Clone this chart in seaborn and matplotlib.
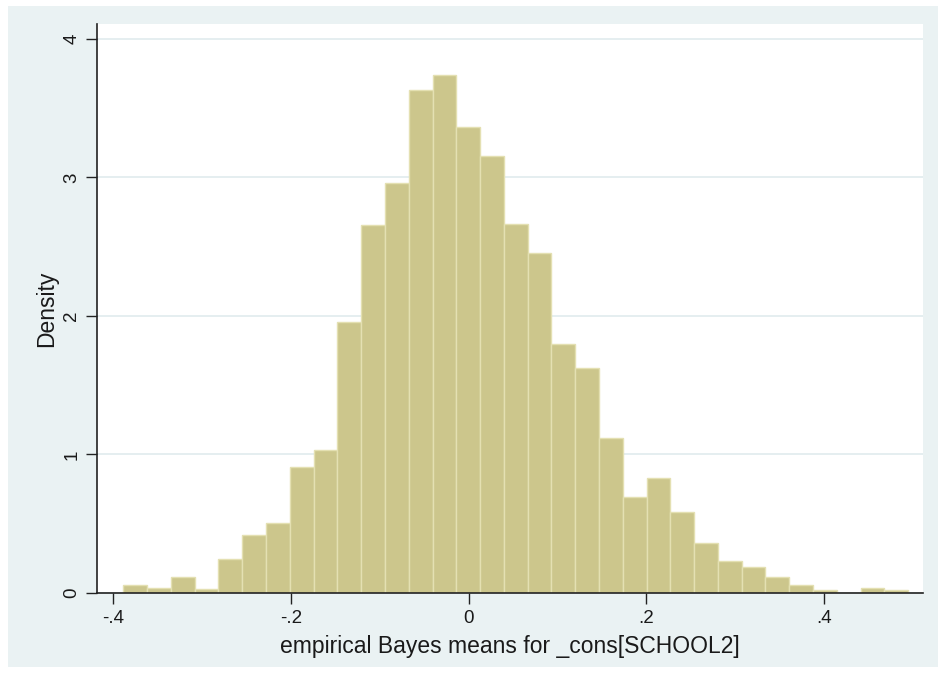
import numpy as np
import pandas as pd
import matplotlib
matplotlib.use("Agg")
import matplotlib.pyplot as plt
from matplotlib.patches import Rectangle
import seaborn as sns

# Histogram of empirical Bayes means (density scale), 33 equal-width bins
bin_start = -0.3887
bin_width = 0.02678
density = [0.058, 0.034, 0.117, 0.030, 0.245, 0.418, 0.502, 0.91, 1.03, 1.955,
           2.657, 2.957, 3.632, 3.738, 3.363, 3.152, 2.664, 2.455, 1.80, 1.624,
           1.12, 0.69, 0.827, 0.586, 0.363, 0.233, 0.185, 0.118, 0.058, 0.022,
           0.0, 0.038, 0.022]

x_ticks = [-0.4, -0.2, 0.0, 0.2, 0.4]
x_tick_labels = ["-.4", "-.2", "0", ".2", ".4"]
y_ticks = [0, 1, 2, 3, 4]
y_tick_labels = ["0", "1", "2", "3", "4"]
x_label = "empirical Bayes means for _cons[SCHOOL2]"
y_label = "Density"

n_bins = len(density)
edges = [float(e) for e in bin_start + bin_width * np.arange(n_bins + 1)]
centers = [(a + b) / 2 for a, b in zip(edges[:-1], edges[1:])]
df = pd.DataFrame({"value": centers, "density": density})

sns.set_theme(style="white")
plt.rcParams["font.family"] = ["Liberation Sans", "DejaVu Sans"]

outer_bg = "#EAF2F3"
fig = plt.figure(figsize=(9.38, 6.75), dpi=100, facecolor="white")
fig.add_artist(Rectangle((8 / 938, 8 / 675), 1 - 8 / 938, 1 - 14 / 675,
                         transform=fig.transFigure, facecolor=outer_bg,
                         edgecolor="none", zorder=-10))

ax = fig.add_axes([97 / 938, (675 - 593) / 675, 826 / 938, 569 / 675])
ax.set_zorder(1)
ax.set_facecolor("white")

sns.histplot(data=df, x="value", weights="density", bins=edges, stat="count",
             color="#CCC68C", alpha=1.0, edgecolor="#E4E0B2", linewidth=1.0,
             ax=ax, zorder=2)

ax.set_xlim(-0.4184, 0.5118)
ax.set_ylim(0, 4.108)

ax.set_xticks(x_ticks)
ax.set_xticklabels(x_tick_labels)
ax.set_yticks(y_ticks)
ax.set_yticklabels(y_tick_labels, rotation=90, va="center")

ax.yaxis.grid(True, color="#E3EDEF", linewidth=1.3, zorder=0)
ax.xaxis.grid(False)
ax.set_axisbelow(True)

for side in ["top", "right"]:
    ax.spines[side].set_visible(False)
for side in ["left", "bottom"]:
    ax.spines[side].set_color("#222222")
    ax.spines[side].set_linewidth(1.2)

ax.tick_params(axis="both", which="major", direction="out", length=8, width=1.0,
               color="#222222", labelsize=13.5, labelcolor="#1a1a1a", pad=4,
               bottom=True, left=True)

ax.set_xlabel(x_label, fontsize=16.5, color="#1a1a1a", labelpad=6)
ax.set_ylabel(y_label, fontsize=16.5, color="#1a1a1a", labelpad=4)

fig.savefig("out.png", dpi=100, facecolor="white")
